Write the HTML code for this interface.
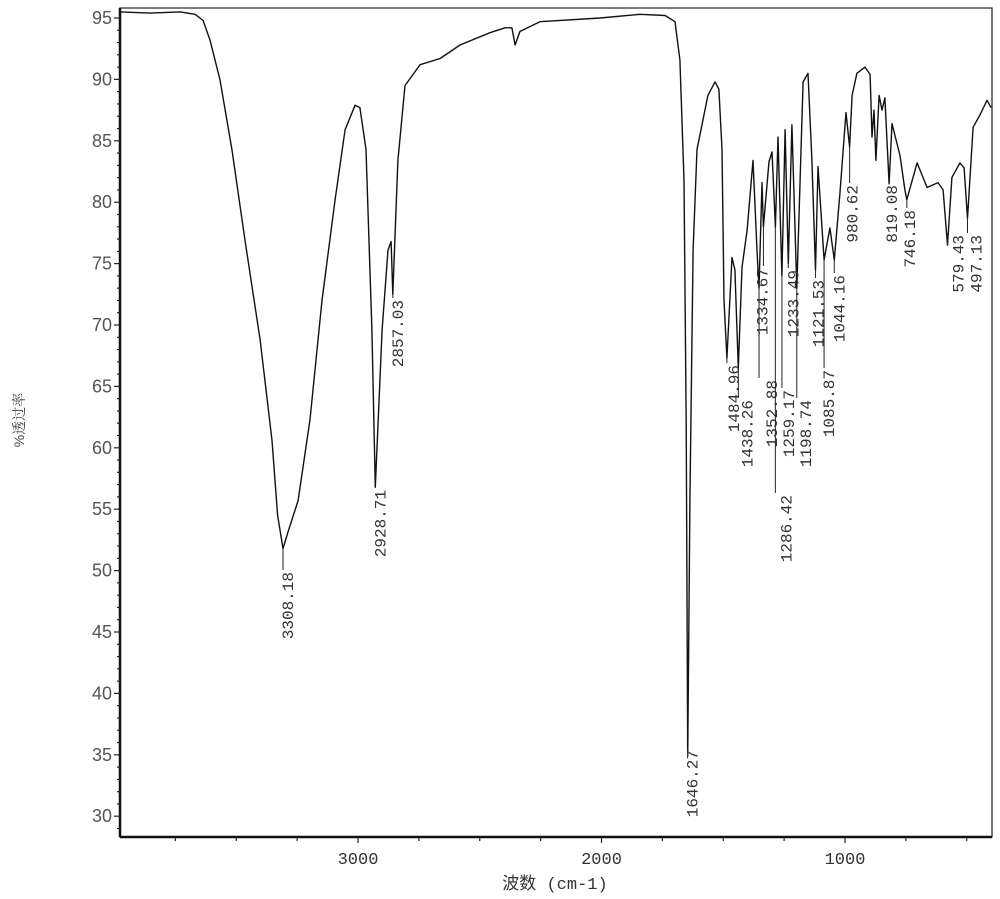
<!DOCTYPE html>
<html><head><meta charset="utf-8">
<style>
html,body{margin:0;padding:0;background:#fff;}
svg{display:block;}
</style></head>
<body>
<svg id="chart" width="1000" height="899" viewBox="0 0 1000 899" xmlns="http://www.w3.org/2000/svg"></svg>
<script>
const wavenumbers = [3977,3854,3730,3669,3636,3608,3567,3518,3464,3402,3353,3330,3308,3285,3246,3197,3148,3094,3053,3012,2992,2967,2943,2929,2901,2877,2864,2857,2836,2807,2745,2663,2581,2458,2396,2368,2355,2335,2253,2006,1842,1739,1698,1678,1661,1652,1649,1646,1642,1637,1624,1608,1583,1563,1534,1518,1505,1497,1485,1464,1452,1438,1423,1402,1378,1361,1353,1341,1335,1312,1300,1286,1275,1259,1246,1233,1218,1198,1172,1152,1136,1121,1111,1086,1062,1044,1021,996,981,971,951,918,897,889,881,873,860,848,836,819,807,774,754,746,704,663,618,597,579,561,528,511,497,474,446,417,400];
const transmittance = [95.5,95.4,95.5,95.3,94.8,93.2,90,84.3,76.9,68.8,60.6,54.5,51.8,53.3,55.7,62.3,72,80.2,85.9,87.9,87.7,84.3,69.6,56.8,69.6,76.1,76.8,72.5,83.4,89.5,91.2,91.7,92.8,93.8,94.2,94.2,92.8,93.9,94.7,95,95.3,95.2,94.7,91.6,81.8,62,48,34.9,44,55.7,76.1,84.3,86.7,88.7,89.8,89.2,84.3,72,67.3,75.5,74.5,66.5,74.7,77.7,83.4,75.9,73,81.6,78,83.3,84.1,78,85.3,74,85.9,75,86.3,73,89.8,90.5,83.4,74.5,82.9,75.3,77.9,75.3,80.7,87.3,84.5,88.7,90.5,91,90.4,85.3,87.5,83.4,88.7,87.5,88.5,81.5,86.4,83.8,81,80.2,83.2,81.2,81.6,81,76.5,82,83.2,82.8,78.7,86.1,87.1,88.3,87.7];
const peakLabels = ["3308.18","2928.71","2857.03","1646.27","1484.96","1438.26","1352.88","1334.67","1286.42","1259.17","1233.49","1198.74","1121.53","1085.87","1044.16","980.62","819.08","746.18","579.43","497.13"];
const peakWn = [3308,2929,2857,1646,1485,1438,1353,1335,1286,1259,1233,1198,1121,1086,1044,981,819,746,579,497];
const labelTop = [572,490,300,750,365,400,380,268,495,390,270,400,280,370,275,185,185,210,235,235];
const labelDx = [10,10,10,10,12,14,18,4,16,12,10,14,8,10,10,8,8,8,16,14];
const yTicks = [95,90,85,80,75,70,65,60,55,50,45,40,35,30];
const xTicks = [3000,2000,1000];

const L=120,R=992,T=8,B=837;
const xs = w => 845 + (1000 - w) * 0.2435;
const ys = v => 18 + (95 - v) * 12.28;
const svg = document.getElementById('chart');
const NS='http://www.w3.org/2000/svg';
function mk(tag, attrs){const e=document.createElementNS(NS,tag);for(const k in attrs)e.setAttribute(k,attrs[k]);svg.appendChild(e);return e;}

const frame = mk('rect',{x:L,y:T,width:R-L,height:B-T,fill:'none',stroke:'#222','stroke-width':1.2});


const yAxis = mk('line',{x1:L,y1:T,x2:L,y2:B,stroke:'#111','stroke-width':2.5});


const xAxis = mk('line',{x1:L,y1:B,x2:R,y2:B,stroke:'#111','stroke-width':2.5});



for(let v=29; v<=95; v++){
  const major = v%5===0;
  const t = mk('line',{x1:L-(major?6:3),y1:ys(v),x2:L,y2:ys(v),stroke:'#222','stroke-width':1.2});
  
  
}
yTicks.forEach(v=>{
  const t = mk('text',{x:112,y:ys(v)+6,'text-anchor':'end','font-family':'Liberation Sans, sans-serif','font-size':18,fill:'#555'});
  t.textContent=v;
  
  
});
for(let w=3750; w>=500; w-=250){
  const major = w%1000===0;
  const t = mk('line',{x1:xs(w),y1:B,x2:xs(w),y2:B+(major?6:4),stroke:'#222','stroke-width':1.2});
  
  
}
xTicks.forEach(w=>{
  const t = mk('text',{x:xs(w),y:864,'text-anchor':'middle','font-family':'Liberation Mono, monospace','font-size':17,fill:'#333'});
  t.textContent=w;
  
  
});
const xt = mk('text',{x:555,y:889,'text-anchor':'middle','font-family':'Liberation Mono, Noto Sans CJK SC, sans-serif','font-size':17,fill:'#333'});
xt.textContent='波数 (cm-1)';


const yt = mk('text',{x:0,y:0,transform:'translate(24,420) rotate(-90)','text-anchor':'middle','font-family':'Liberation Sans, Noto Serif CJK SC, serif','font-size':14,fill:'#444'});
yt.textContent='%透过率';



let d='';
wavenumbers.forEach((w,i)=>{d+=(i?'L':'M')+xs(w).toFixed(1)+','+ys(transmittance[i]).toFixed(1);});
const line = mk('path',{d:d,fill:'none',stroke:'#111','stroke-width':1.4,'stroke-linejoin':'round'});



peakLabels.forEach((lab,i)=>{
  const w = peakWn[i];
  let idx = wavenumbers.indexOf(w);
  const v = idx>=0 ? transmittance[idx] : 80;
  const px = xs(w), py = ys(v);
  const ln = mk('line',{x1:px,y1:py,x2:px,y2:labelTop[i]-2,stroke:'#222','stroke-width':1});
  
  
  const lx = px + labelDx[i], ly = labelTop[i];
  const t = mk('text',{x:0,y:0,transform:`translate(${lx},${ly}) rotate(-90)`,'text-anchor':'end','font-family':'Liberation Mono, monospace','font-size':16,fill:'#333'});
  t.textContent = lab;
  
  
});
</script>
</body></html>
